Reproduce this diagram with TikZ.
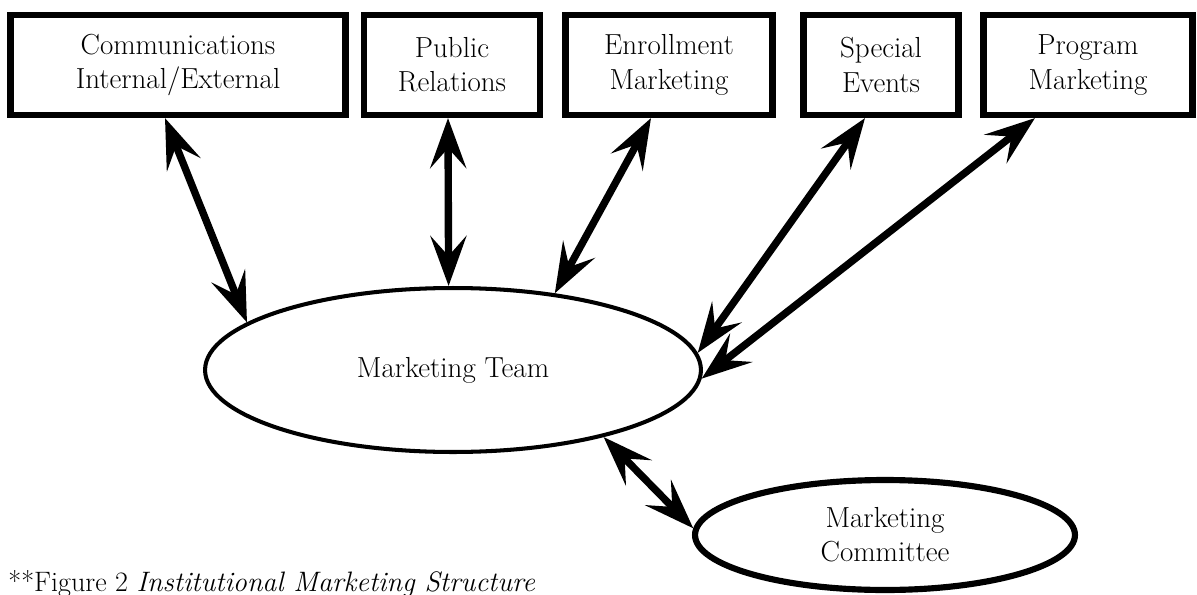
\documentclass[tikz,border=0pt]{standalone}
\usetikzlibrary{arrows.meta,shapes.geometric}
\begin{document}
\begin{tikzpicture}[x=0.02cm,y=-0.02cm,
  unit/.style={draw, line width=3.5pt, minimum height=2cm, inner sep=0pt, align=center, font=\fontsize{16.5}{19.5}\selectfont},
  group/.style={draw, ellipse, inner sep=0pt, align=center, font=\fontsize{16.5}{19.5}\selectfont},
  link/.style={line width=4.2pt, {Stealth[length=1cm,width=0.72cm,inset=0.4cm]}-{Stealth[length=1cm,width=0.72cm,inset=0.4cm]}}]
\useasboundingbox (0,0) rectangle (1197,595);
\node[unit, minimum width=6.7cm] (comm) at (178,65) {Communications\\Internal/External};
\node[unit, minimum width=3.52cm] (pr) at (452,65) {Public\\Relations};
\node[unit, minimum width=4.14cm] (enroll) at (669,65) {Enrollment\\Marketing};
\node[unit, minimum width=3.1cm] (events) at (881,65) {Special\\Events};
\node[unit, minimum width=4.18cm] (program) at (1088,65) {Program\\Marketing};
\node[group, line width=2.3pt, minimum width=9.92cm, minimum height=3.28cm] (team) at (453,370) {Marketing Team};
\node[group, line width=3.5pt, minimum width=7.6cm, minimum height=2.2cm] (committee) at (885,535) {Marketing\\Committee};
\path[draw,link] ([xshift=-0.26cm]comm.south) -- (team.167);
\path[draw,link] ([xshift=-0.08cm]pr.south) -- (team.93);
\path[draw,link] ([xshift=-0.36cm]enroll.south) -- (team.37);
\path[draw,link] ([xshift=-0.32cm]events.south) -- (team.4);
\path[draw,link] ([xshift=-1.06cm]program.south) -- (team.-2);
\path[draw,link] (team.-24) -- (committee.178);

\node[anchor=base west, inner sep=0pt, font=\fontsize{16}{18}\selectfont] (caption) at (8,591) {**Figure 2 \textit{Institutional Marketing Structure}};
\end{tikzpicture}
\end{document}
